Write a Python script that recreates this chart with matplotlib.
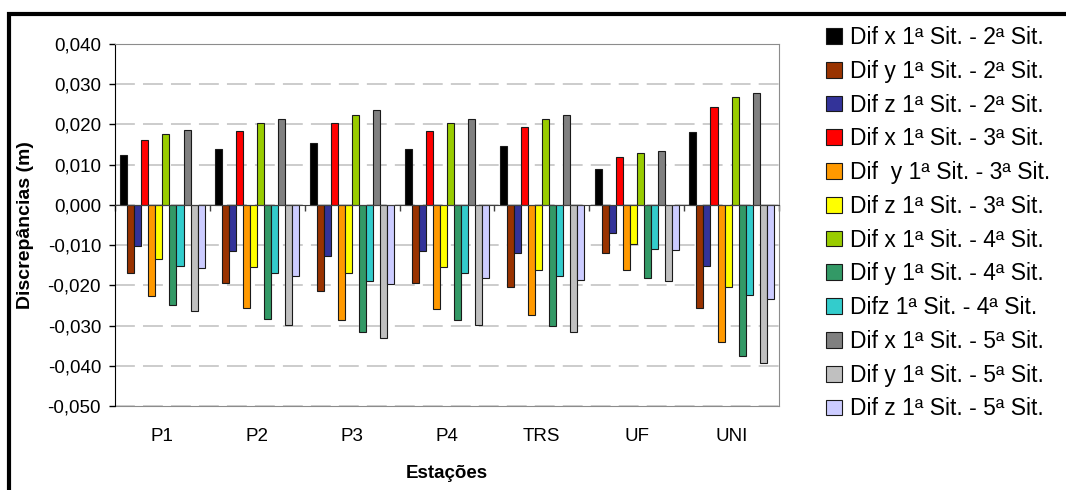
import numpy as np
import matplotlib
matplotlib.use("Agg")
import matplotlib.pyplot as plt
from matplotlib.lines import Line2D
from matplotlib.ticker import FuncFormatter, FixedLocator

plt.rcParams['font.family'] = ['Liberation Sans', 'DejaVu Sans']

estacoes = ["P1", "P2", "P3", "P4", "TRS", "UF", "UNI"]

series_labels = [
    "Dif x 1ª Sit. - 2ª Sit.",
    "Dif y 1ª Sit. - 2ª Sit.",
    "Dif z 1ª Sit. - 2ª Sit.",
    "Dif x 1ª Sit. - 3ª Sit.",
    "Dif  y 1ª Sit. - 3ª Sit.",
    "Dif z 1ª Sit. - 3ª Sit.",
    "Dif x 1ª Sit. - 4ª Sit.",
    "Dif y 1ª Sit. - 4ª Sit.",
    "Difz 1ª Sit. - 4ª Sit.",
    "Dif x 1ª Sit. - 5ª Sit.",
    "Dif y 1ª Sit. - 5ª Sit.",
    "Dif z 1ª Sit. - 5ª Sit.",
]

# discrepancias (m) por estacao: P1, P2, P3, P4, TRS, UF, UNI
dx_12 = [0.0123, 0.0139, 0.0155, 0.0139, 0.0146, 0.0090, 0.0182]
dy_12 = [-0.0170, -0.0193, -0.0213, -0.0193, -0.0203, -0.0120, -0.0256]
dz_12 = [-0.0102, -0.0114, -0.0128, -0.0114, -0.0120, -0.0071, -0.0151]
dx_13 = [0.0161, 0.0184, 0.0204, 0.0184, 0.0194, 0.0119, 0.0243]
dy_13 = [-0.0226, -0.0256, -0.0286, -0.0260, -0.0273, -0.0163, -0.0342]
dz_13 = [-0.0135, -0.0154, -0.0170, -0.0154, -0.0161, -0.0098, -0.0204]
dx_14 = [0.0177, 0.0204, 0.0224, 0.0204, 0.0214, 0.0129, 0.0269]
dy_14 = [-0.0250, -0.0283, -0.0315, -0.0286, -0.0302, -0.0181, -0.0376]
dz_14 = [-0.0151, -0.0170, -0.0190, -0.0170, -0.0177, -0.0109, -0.0223]
dx_15 = [0.0187, 0.0214, 0.0236, 0.0214, 0.0224, 0.0135, 0.0279]
dy_15 = [-0.0263, -0.0299, -0.0331, -0.0299, -0.0315, -0.0190, -0.0394]
dz_15 = [-0.0158, -0.0177, -0.0197, -0.0181, -0.0187, -0.0112, -0.0235]

series = [dx_12, dy_12, dz_12, dx_13, dy_13, dz_13,
          dx_14, dy_14, dz_14, dx_15, dy_15, dz_15]

cores = ["#000000", "#993300", "#333399", "#FF0000", "#FF9900", "#FFFF00",
         "#99CC00", "#339966", "#33CCCC", "#808080", "#C0C0C0", "#CCCCFF"]

fig = plt.figure(figsize=(10.66, 4.90), dpi=100)
ax = fig.add_axes([115 / 1066, 1 - 406 / 490, 664 / 1066, 362 / 490])

n = len(series)
largura = 1 / (n + 1.5)
x = np.arange(len(estacoes))
barras = []
for j, (vals, cor, lab) in enumerate(zip(series, cores, series_labels)):
    b = ax.bar(x + (j - (n - 1) / 2) * largura, vals, largura, color=cor,
               edgecolor="#1a1a1a", linewidth=0.8, label=lab, zorder=3)
    barras.append(b)

ax.set_xlim(-0.5, len(estacoes) - 0.5)
ax.set_ylim(-0.05, 0.04)
ax.set_yticks(np.arange(-0.05, 0.0401, 0.01))
ax.yaxis.set_major_formatter(FuncFormatter(lambda v, p: f"{v:.3f}".replace(".", ",")))
ax.tick_params(axis="y", direction="out", length=4, width=1, color="#000000",
               labelsize=13.5, pad=6)

ax.yaxis.grid(True, color="#C8C8C8", linewidth=1.3, linestyle=(0, (11, 4.5)), zorder=0)
ax.set_axisbelow(True)

# eixo x no zero com marcas entre estacoes
ax.spines["bottom"].set_position(("data", 0))
ax.spines["bottom"].set_color("#404040")
ax.spines["bottom"].set_zorder(4)
ax.xaxis.set_major_locator(FixedLocator(np.arange(-0.5, len(estacoes), 1.0)))
ax.tick_params(axis="x", direction="out", length=4.5, width=1, color="#404040",
               labelbottom=False)

ax.spines["left"].set_color("#000000")
ax.spines["top"].set_color("#8C8C8C")
ax.spines["right"].set_color("#8C8C8C")

# nomes das estacoes na base da area do grafico
sec = ax.secondary_xaxis("bottom")
sec.set_xticks(x)
sec.set_xticklabels(estacoes)
sec.tick_params(length=0, labelsize=13.5, pad=16)
sec.spines["bottom"].set_color("#8C8C8C")
sec.set_xlabel("Estações", fontsize=13.5, fontweight="bold", labelpad=14)

ax.set_ylabel("Discrepâncias (m)", fontsize=14, fontweight="bold", labelpad=10)

fig.legend(handles=barras, labels=series_labels, loc="upper left",
           bbox_to_anchor=(826 / 1066, 1 - 26 / 490), frameon=False,
           fontsize=16.5, handlelength=0.68, handleheight=0.68,
           handletextpad=0.38, labelspacing=0.47, borderpad=0, borderaxespad=0)

# moldura preta
fig.add_artist(Line2D([7 / 1066, 1.0], [1 - 14 / 490, 1 - 14 / 490],
                      color="black", linewidth=3, solid_capstyle="butt"))
fig.add_artist(Line2D([9 / 1066, 9 / 1066], [0, 1 - 12 / 490],
                      color="black", linewidth=3, solid_capstyle="butt"))

fig.savefig("out.png", dpi=100)
